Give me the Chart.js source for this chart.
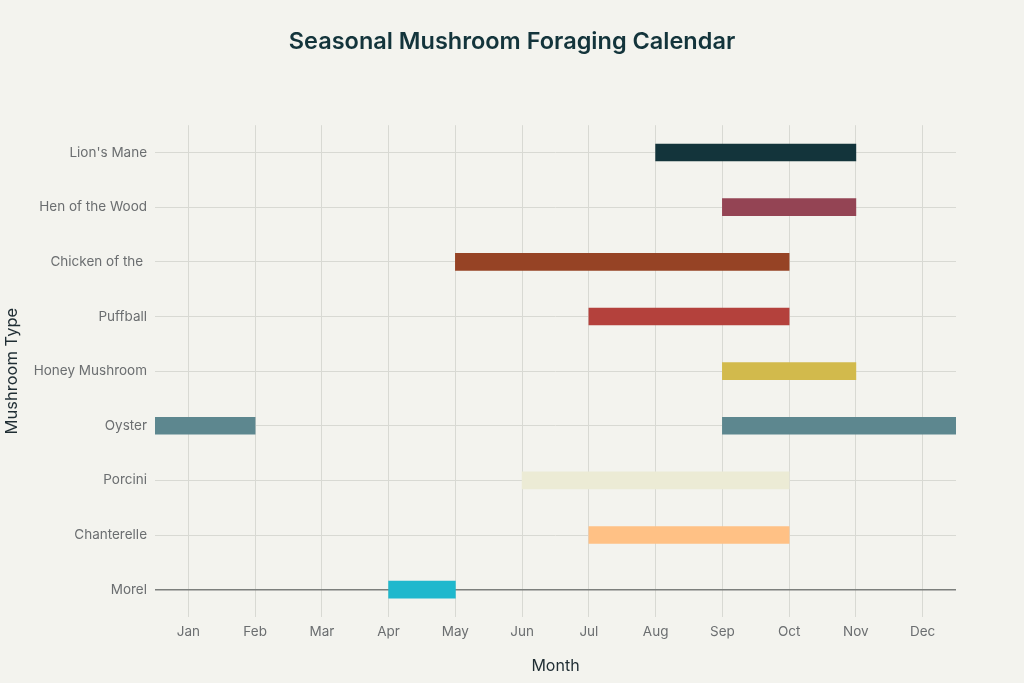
<!DOCTYPE html>
<html>
<head>
<meta charset="utf-8">
<script src="https://cdn.jsdelivr.net/npm/chart.js@4"></script>
<style>
html,body{margin:0;padding:0;background:#F3F3EE;}
#wrap{width:1024px;height:683px;position:relative;}
</style>
</head>
<body>
<div id="wrap"><canvas id="c" width="1024" height="683"></canvas></div>
<script>
const months = ['Jan','Feb','Mar','Apr','May','Jun','Jul','Aug','Sep','Oct','Nov','Dec'];
const mushrooms = ["Lion's Mane","Hen of the Wood","Chicken of the ","Puffball","Honey Mushroom","Oyster","Porcini","Chanterelle","Morel"];
// month index: Jan = 0 ... Dec = 11
const seasonStart = [7, 8, 4, 6, 8, -0.5, 5, 6, 3];
const seasonEnd   = [10, 10, 9, 9, 10, 1, 9, 9, 4];
// second season segment (Oyster only)
const secondStart = [null, null, null, null, null, 8, null, null, null];
const secondEnd   = [null, null, null, null, null, 11.5, null, null, null];
const colors = ['#13343B','#944454','#964325','#B4413C','#D2BA4C','#5D878F','#ECEBD5','#FFC185','#1FB8CD'];

const FONT = 'Inter, "Liberation Sans", sans-serif';
const range1 = seasonStart.map((s,i)=>[s, seasonEnd[i]]);
const range2 = secondStart.map((s,i)=> s===null ? null : [s, secondEnd[i]]);

new Chart(document.getElementById('c'), {
  type: 'bar',
  data: {
    labels: mushrooms,
    datasets: [
      {data: range1, backgroundColor: colors, borderWidth: 0, barThickness: 17, grouped: false},
      {data: range2, backgroundColor: colors, borderWidth: 0, barThickness: 17, grouped: false}
    ]
  },
  options: {
    indexAxis: 'y',
    responsive: false,
    animation: false,
    devicePixelRatio: 1,
    layout: {padding: 0},
    plugins: {
      legend: {display: false},
      tooltip: {enabled: false},
      title: {
        display: true,
        text: 'Seasonal Mushroom Foraging Calendar',
        color: '#13343B',
        font: {family: FONT, size: 23.5, weight: '600'},
        padding: {top: 28, bottom: 69}
      }
    },
    scales: {
      x: {
        type: 'linear',
        min: -0.5, max: 11.5,
        afterBuildTicks: axis => { axis.ticks = months.map((m,i)=>({value:i})); },
        afterFit: axis => { axis.height = 66; },
        ticks: {
          callback: v => months[v],
          color: '#6B6E70',
          font: {family: FONT, size: 13.5},
          padding: 7,
          maxRotation: 0,
          autoSkip: false
        },
        grid: {color: '#D8D9D3', drawTicks: false, lineWidth: 1},
        border: {display: false},
        title: {display: true, text: 'Month', color: '#1F2D33', font: {family: FONT, size: 16}, padding: {top: 6, bottom: 7.5}}
      },
      y: {
        type: 'category',
        offset: true,
        afterFit: axis => { axis.width = 155; },
        ticks: {
          color: '#6B6E70',
          font: {family: FONT, size: 13.5},
          padding: 8
        },
        grid: {
          offset: false,
          drawTicks: false,
          color: ctx => ctx.index === mushrooms.length - 1 ? '#7C7F7C' : '#D8D9D3',
          lineWidth: ctx => ctx.index === mushrooms.length - 1 ? 1.5 : 1
        },
        border: {display: false},
        title: {display: true, text: 'Mushroom Type', color: '#1F2D33', font: {family: FONT, size: 16.5}, padding: {top: 2.5, bottom: 0}}
      },
      yRight: {
        type: 'category',
        position: 'right',
        afterFit: axis => { axis.width = 68; },
        ticks: {display: false},
        grid: {display: false, drawTicks: false},
        border: {display: false}
      }
    }
  }
});
</script>
</body>
</html>
